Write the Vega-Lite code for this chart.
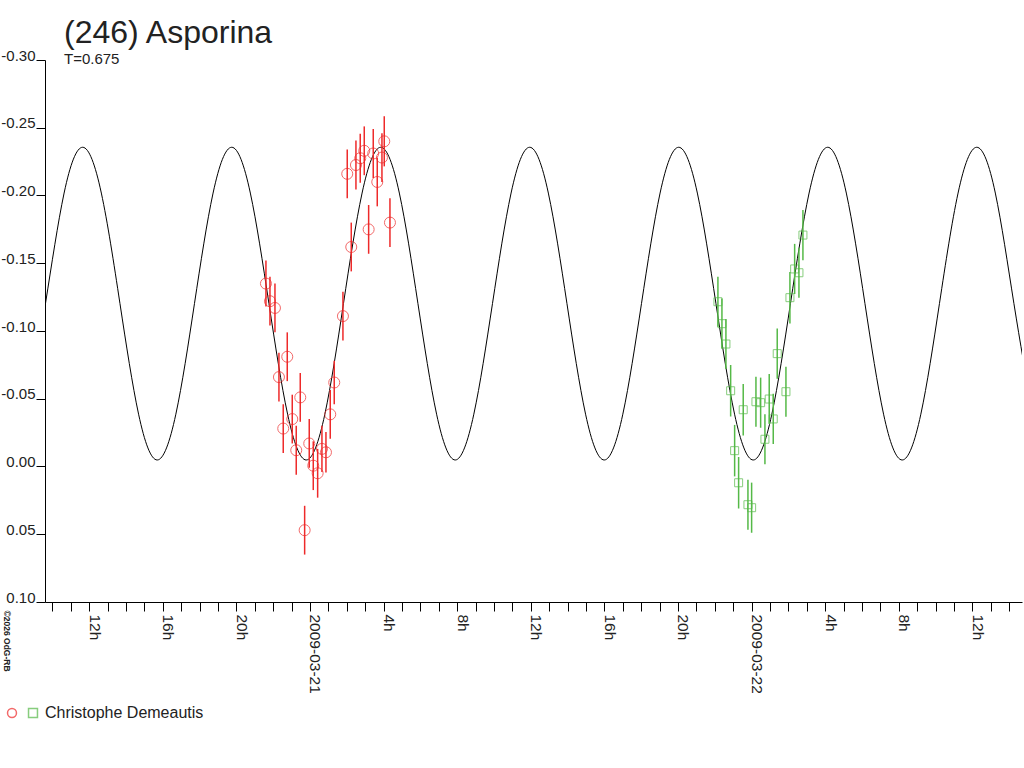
{
  "$schema": "https://vega.github.io/schema/vega-lite/v6.json",
  "autosize": "none",
  "width": 977,
  "height": 542,
  "padding": {"left": 45, "top": 60, "right": 2, "bottom": 166},
  "background": "#ffffff",
  "title": {
    "text": "(246) Asporina",
    "subtitle": "T=0.675",
    "anchor": "start",
    "frame": "group",
    "dx": 19,
    "offset": -20,
    "font": "Liberation Sans",
    "fontSize": 32,
    "fontWeight": "normal",
    "color": "#222222",
    "subtitleFont": "Liberation Sans",
    "subtitleFontSize": 15,
    "subtitleColor": "#222222",
    "subtitlePadding": 2
  },
  "datasets": {
    "curve": [
      {"t": "2009-03-20T08:36:48", "mag": -0.0386},
      {"t": "2009-03-20T09:37:30", "mag": -0.1202},
      {"t": "2009-03-20T10:38:18", "mag": -0.2018},
      {"t": "2009-03-20T11:39:00", "mag": -0.2356},
      {"t": "2009-03-20T12:39:42", "mag": -0.2018},
      {"t": "2009-03-20T13:40:30", "mag": -0.1202},
      {"t": "2009-03-20T14:41:12", "mag": -0.0386},
      {"t": "2009-03-20T15:41:54", "mag": -0.0048},
      {"t": "2009-03-20T16:42:42", "mag": -0.0386},
      {"t": "2009-03-20T17:43:24", "mag": -0.1202},
      {"t": "2009-03-20T18:44:06", "mag": -0.2018},
      {"t": "2009-03-20T19:44:54", "mag": -0.2356},
      {"t": "2009-03-20T20:45:36", "mag": -0.2018},
      {"t": "2009-03-20T21:46:18", "mag": -0.1202},
      {"t": "2009-03-20T22:47:06", "mag": -0.0386},
      {"t": "2009-03-20T23:47:48", "mag": -0.0048},
      {"t": "2009-03-21T00:48:36", "mag": -0.0386},
      {"t": "2009-03-21T01:49:18", "mag": -0.1202},
      {"t": "2009-03-21T02:50:00", "mag": -0.2018},
      {"t": "2009-03-21T03:50:48", "mag": -0.2356},
      {"t": "2009-03-21T04:51:30", "mag": -0.2018},
      {"t": "2009-03-21T05:52:12", "mag": -0.1202},
      {"t": "2009-03-21T06:53:00", "mag": -0.0386},
      {"t": "2009-03-21T07:53:42", "mag": -0.0048},
      {"t": "2009-03-21T08:54:24", "mag": -0.0386},
      {"t": "2009-03-21T09:55:12", "mag": -0.1202},
      {"t": "2009-03-21T10:55:54", "mag": -0.2018},
      {"t": "2009-03-21T11:56:36", "mag": -0.2356},
      {"t": "2009-03-21T12:57:24", "mag": -0.2018},
      {"t": "2009-03-21T13:58:06", "mag": -0.1202},
      {"t": "2009-03-21T14:58:48", "mag": -0.0386},
      {"t": "2009-03-21T15:59:36", "mag": -0.0048},
      {"t": "2009-03-21T17:00:18", "mag": -0.0386},
      {"t": "2009-03-21T18:01:06", "mag": -0.1202},
      {"t": "2009-03-21T19:01:48", "mag": -0.2018},
      {"t": "2009-03-21T20:02:30", "mag": -0.2356},
      {"t": "2009-03-21T21:03:18", "mag": -0.2018},
      {"t": "2009-03-21T22:04:00", "mag": -0.1202},
      {"t": "2009-03-21T23:04:42", "mag": -0.0386},
      {"t": "2009-03-22T00:05:30", "mag": -0.0048},
      {"t": "2009-03-22T01:06:12", "mag": -0.0386},
      {"t": "2009-03-22T02:06:54", "mag": -0.1202},
      {"t": "2009-03-22T03:07:42", "mag": -0.2018},
      {"t": "2009-03-22T04:08:24", "mag": -0.2356},
      {"t": "2009-03-22T05:09:06", "mag": -0.2018},
      {"t": "2009-03-22T06:09:54", "mag": -0.1202},
      {"t": "2009-03-22T07:10:36", "mag": -0.0386},
      {"t": "2009-03-22T08:11:18", "mag": -0.0048},
      {"t": "2009-03-22T09:12:06", "mag": -0.0386},
      {"t": "2009-03-22T10:12:48", "mag": -0.1202},
      {"t": "2009-03-22T11:13:30", "mag": -0.2018},
      {"t": "2009-03-22T12:14:18", "mag": -0.2356},
      {"t": "2009-03-22T13:15:00", "mag": -0.2018},
      {"t": "2009-03-22T14:15:42", "mag": -0.1202},
      {"t": "2009-03-22T15:16:30", "mag": -0.0386}
    ],
    "obs": [
      {"session": "1", "t": "2009-03-20T21:36:30", "mag": -0.135, "lo": -0.152, "hi": -0.118},
      {"session": "1", "t": "2009-03-20T21:49:36", "mag": -0.122, "lo": -0.14, "hi": -0.104},
      {"session": "1", "t": "2009-03-20T22:05:54", "mag": -0.117, "lo": -0.135, "hi": -0.099},
      {"session": "1", "t": "2009-03-20T22:18:54", "mag": -0.066, "lo": -0.084, "hi": -0.048},
      {"session": "1", "t": "2009-03-20T22:32:54", "mag": -0.028, "lo": -0.046, "hi": -0.01},
      {"session": "1", "t": "2009-03-20T22:46:00", "mag": -0.081, "lo": -0.099, "hi": -0.063},
      {"session": "1", "t": "2009-03-20T23:02:18", "mag": -0.035, "lo": -0.053, "hi": -0.017},
      {"session": "1", "t": "2009-03-20T23:15:18", "mag": -0.012, "lo": -0.03, "hi": 0.006},
      {"session": "1", "t": "2009-03-20T23:28:24", "mag": -0.051, "lo": -0.069, "hi": -0.033},
      {"session": "1", "t": "2009-03-20T23:42:42", "mag": 0.047, "lo": 0.029, "hi": 0.065},
      {"session": "1", "t": "2009-03-20T23:57:42", "mag": -0.017, "lo": -0.035, "hi": 0.001},
      {"session": "1", "t": "2009-03-21T00:10:48", "mag": -0.0006, "lo": -0.0186, "hi": 0.0174},
      {"session": "1", "t": "2009-03-21T00:25:06", "mag": 0.005, "lo": -0.013, "hi": 0.023},
      {"session": "1", "t": "2009-03-21T00:39:06", "mag": -0.013, "lo": -0.03, "hi": 0.004},
      {"session": "1", "t": "2009-03-21T00:52:12", "mag": -0.0105, "lo": -0.0255, "hi": 0.0045},
      {"session": "1", "t": "2009-03-21T01:06:12", "mag": -0.0385, "lo": -0.0565, "hi": -0.0205},
      {"session": "1", "t": "2009-03-21T01:19:12", "mag": -0.062, "lo": -0.078, "hi": -0.046},
      {"session": "1", "t": "2009-03-21T01:47:36", "mag": -0.111, "lo": -0.129, "hi": -0.093},
      {"session": "1", "t": "2009-03-21T02:01:36", "mag": -0.216, "lo": -0.234, "hi": -0.198},
      {"session": "1", "t": "2009-03-21T02:14:42", "mag": -0.162, "lo": -0.18, "hi": -0.144},
      {"session": "1", "t": "2009-03-21T02:30:00", "mag": -0.2225, "lo": -0.2405, "hi": -0.2045},
      {"session": "1", "t": "2009-03-21T02:44:00", "mag": -0.2275, "lo": -0.2455, "hi": -0.2095},
      {"session": "1", "t": "2009-03-21T02:57:06", "mag": -0.233, "lo": -0.251, "hi": -0.215},
      {"session": "1", "t": "2009-03-21T03:11:24", "mag": -0.175, "lo": -0.193, "hi": -0.157},
      {"session": "1", "t": "2009-03-21T03:26:24", "mag": -0.231, "lo": -0.249, "hi": -0.213},
      {"session": "1", "t": "2009-03-21T03:39:30", "mag": -0.21, "lo": -0.228, "hi": -0.192},
      {"session": "1", "t": "2009-03-21T03:54:48", "mag": -0.228, "lo": -0.246, "hi": -0.21},
      {"session": "1", "t": "2009-03-21T04:02:18", "mag": -0.24, "lo": -0.2585, "hi": -0.2215},
      {"session": "1", "t": "2009-03-21T04:20:54", "mag": -0.18, "lo": -0.198, "hi": -0.162},
      {"session": "2", "t": "2009-03-21T22:10:24", "mag": -0.1216, "lo": -0.1401, "hi": -0.1031},
      {"session": "2", "t": "2009-03-21T22:23:30", "mag": -0.1054, "lo": -0.1239, "hi": -0.0869},
      {"session": "2", "t": "2009-03-21T22:36:30", "mag": -0.0904, "lo": -0.1089, "hi": -0.0719},
      {"session": "2", "t": "2009-03-21T22:51:54", "mag": -0.0559, "lo": -0.0749, "hi": -0.0369},
      {"session": "2", "t": "2009-03-21T23:04:54", "mag": -0.0117, "lo": -0.0307, "hi": 0.0073},
      {"session": "2", "t": "2009-03-21T23:17:54", "mag": 0.012, "lo": -0.007, "hi": 0.031},
      {"session": "2", "t": "2009-03-21T23:32:54", "mag": -0.0419, "lo": -0.0609, "hi": -0.0229},
      {"session": "2", "t": "2009-03-21T23:48:18", "mag": 0.0282, "lo": 0.0097, "hi": 0.0467},
      {"session": "2", "t": "2009-03-22T00:00:18", "mag": 0.0304, "lo": 0.0119, "hi": 0.0489},
      {"session": "2", "t": "2009-03-22T00:14:24", "mag": -0.0478, "lo": -0.0663, "hi": -0.0293},
      {"session": "2", "t": "2009-03-22T00:29:42", "mag": -0.0471, "lo": -0.0656, "hi": -0.0286},
      {"session": "2", "t": "2009-03-22T00:43:42", "mag": -0.0201, "lo": -0.0386, "hi": -0.0016},
      {"session": "2", "t": "2009-03-22T00:57:42", "mag": -0.0498, "lo": -0.0683, "hi": -0.0313},
      {"session": "2", "t": "2009-03-22T01:10:48", "mag": -0.0351, "lo": -0.0536, "hi": -0.0166},
      {"session": "2", "t": "2009-03-22T01:23:48", "mag": -0.0833, "lo": -0.1018, "hi": -0.0648},
      {"session": "2", "t": "2009-03-22T01:52:12", "mag": -0.0552, "lo": -0.0737, "hi": -0.0367},
      {"session": "2", "t": "2009-03-22T02:05:12", "mag": -0.1246, "lo": -0.1436, "hi": -0.1056},
      {"session": "2", "t": "2009-03-22T02:20:36", "mag": -0.1458, "lo": -0.1643, "hi": -0.1273},
      {"session": "2", "t": "2009-03-22T02:34:36", "mag": -0.143, "lo": -0.1615, "hi": -0.1245},
      {"session": "2", "t": "2009-03-22T02:47:36", "mag": -0.1708, "lo": -0.1893, "hi": -0.1523}
    ]
  },
  "encoding": {
    "x": {
      "field": "t",
      "type": "temporal",
      "scale": {
        "domain": [
          {"year": 2009, "month": 3, "date": 20, "hours": 9, "minutes": 36},
          {"year": 2009, "month": 3, "date": 22, "hours": 14, "minutes": 42}
        ]
      },
      "axis": {
        "title": null,
        "grid": false,
        "values": [
          {"year": 2009, "month": 3, "date": 20, "hours": 10},
          {"year": 2009, "month": 3, "date": 20, "hours": 11},
          {"year": 2009, "month": 3, "date": 20, "hours": 12},
          {"year": 2009, "month": 3, "date": 20, "hours": 13},
          {"year": 2009, "month": 3, "date": 20, "hours": 14},
          {"year": 2009, "month": 3, "date": 20, "hours": 15},
          {"year": 2009, "month": 3, "date": 20, "hours": 16},
          {"year": 2009, "month": 3, "date": 20, "hours": 17},
          {"year": 2009, "month": 3, "date": 20, "hours": 18},
          {"year": 2009, "month": 3, "date": 20, "hours": 19},
          {"year": 2009, "month": 3, "date": 20, "hours": 20},
          {"year": 2009, "month": 3, "date": 20, "hours": 21},
          {"year": 2009, "month": 3, "date": 20, "hours": 22},
          {"year": 2009, "month": 3, "date": 20, "hours": 23},
          {"year": 2009, "month": 3, "date": 21, "hours": 0},
          {"year": 2009, "month": 3, "date": 21, "hours": 1},
          {"year": 2009, "month": 3, "date": 21, "hours": 2},
          {"year": 2009, "month": 3, "date": 21, "hours": 3},
          {"year": 2009, "month": 3, "date": 21, "hours": 4},
          {"year": 2009, "month": 3, "date": 21, "hours": 5},
          {"year": 2009, "month": 3, "date": 21, "hours": 6},
          {"year": 2009, "month": 3, "date": 21, "hours": 7},
          {"year": 2009, "month": 3, "date": 21, "hours": 8},
          {"year": 2009, "month": 3, "date": 21, "hours": 9},
          {"year": 2009, "month": 3, "date": 21, "hours": 10},
          {"year": 2009, "month": 3, "date": 21, "hours": 11},
          {"year": 2009, "month": 3, "date": 21, "hours": 12},
          {"year": 2009, "month": 3, "date": 21, "hours": 13},
          {"year": 2009, "month": 3, "date": 21, "hours": 14},
          {"year": 2009, "month": 3, "date": 21, "hours": 15},
          {"year": 2009, "month": 3, "date": 21, "hours": 16},
          {"year": 2009, "month": 3, "date": 21, "hours": 17},
          {"year": 2009, "month": 3, "date": 21, "hours": 18},
          {"year": 2009, "month": 3, "date": 21, "hours": 19},
          {"year": 2009, "month": 3, "date": 21, "hours": 20},
          {"year": 2009, "month": 3, "date": 21, "hours": 21},
          {"year": 2009, "month": 3, "date": 21, "hours": 22},
          {"year": 2009, "month": 3, "date": 21, "hours": 23},
          {"year": 2009, "month": 3, "date": 22, "hours": 0},
          {"year": 2009, "month": 3, "date": 22, "hours": 1},
          {"year": 2009, "month": 3, "date": 22, "hours": 2},
          {"year": 2009, "month": 3, "date": 22, "hours": 3},
          {"year": 2009, "month": 3, "date": 22, "hours": 4},
          {"year": 2009, "month": 3, "date": 22, "hours": 5},
          {"year": 2009, "month": 3, "date": 22, "hours": 6},
          {"year": 2009, "month": 3, "date": 22, "hours": 7},
          {"year": 2009, "month": 3, "date": 22, "hours": 8},
          {"year": 2009, "month": 3, "date": 22, "hours": 9},
          {"year": 2009, "month": 3, "date": 22, "hours": 10},
          {"year": 2009, "month": 3, "date": 22, "hours": 11},
          {"year": 2009, "month": 3, "date": 22, "hours": 12},
          {"year": 2009, "month": 3, "date": 22, "hours": 13},
          {"year": 2009, "month": 3, "date": 22, "hours": 14}
        ],
        "labelExpr": "hours(datum.value) % 4 == 0 ? (hours(datum.value) == 0 ? timeFormat(datum.value, '%Y-%m-%d') : hours(datum.value) + 'h') : ''",
        "labelAngle": 90,
        "labelAlign": "left",
        "labelBaseline": "alphabetic",
        "labelOverlap": false,
        "labelFlush": false,
        "labelPadding": 3,
        "labelFont": "Liberation Sans",
        "labelFontSize": 15.5,
        "labelColor": "#222222",
        "tickSize": 9,
        "tickColor": "#000000",
        "domainColor": "#000000"
      }
    },
    "y": {
      "field": "mag",
      "type": "quantitative",
      "scale": {"domain": [-0.3, 0.1], "reverse": true, "nice": false, "zero": false},
      "axis": {
        "title": "©2026 OdG-RB",
        "titleAngle": 90,
        "titleAlign": "left",
        "titleBaseline": "alphabetic",
        "titleX": -42,
        "titleY": 550,
        "titleFont": "Liberation Sans",
        "titleFontSize": 8.5,
        "titleFontWeight": "bold",
        "titleColor": "#222222",
        "grid": false,
        "values": [-0.3, -0.25, -0.2, -0.15, -0.1, -0.05, 0, 0.05, 0.1],
        "labelExpr": "replace(format(datum.value, '.2f'), '−', '-')",
        "labelBaseline": "alphabetic",
        "labelPadding": 1,
        "labelFont": "Liberation Sans",
        "labelFontSize": 15,
        "labelColor": "#222222",
        "tickSize": 9,
        "tickColor": "#000000",
        "domainColor": "#000000"
      }
    }
  },
  "layer": [
    {
      "data": {"name": "curve"},
      "mark": {"type": "line", "color": "#000000", "strokeWidth": 1, "interpolate": "natural", "clip": true},
      "encoding": {}
    },
    {
      "data": {"name": "obs"},
      "mark": {"type": "rule", "strokeWidth": 1.5},
      "encoding": {
        "y": {"field": "lo", "type": "quantitative"},
        "y2": {"field": "hi"},
        "stroke": {
          "condition": {"test": "datum.session == '1'", "value": "#ee2a2a"},
          "value": "#55b947"
        }
      }
    },
    {
      "data": {"name": "obs"},
      "mark": {"type": "point", "filled": false, "strokeWidth": 1},
      "encoding": {
        "color": {
          "field": "session",
          "type": "nominal",
          "scale": {"domain": ["1", "2"], "range": ["#ee2a2a", "#55b947"]},
          "legend": {
            "title": null,
            "orient": "none",
            "legendX": -41,
            "legendY": 645,
            "direction": "horizontal",
            "padding": 0,
            "columnPadding": 1,
            "labelOffset": 4,
            "symbolSize": 80,
            "labelExpr": "datum.value == '2' ? 'Christophe Demeautis' : ''",
            "labelFont": "Liberation Sans",
            "labelFontSize": 16,
            "labelColor": "#222222"
          }
        },
        "shape": {
          "field": "session",
          "type": "nominal",
          "scale": {"domain": ["1", "2"], "range": ["circle", "square"]},
          "legend": {
            "title": null,
            "orient": "none",
            "legendX": -41,
            "legendY": 645,
            "direction": "horizontal",
            "padding": 0,
            "columnPadding": 1,
            "labelOffset": 4,
            "symbolSize": 80,
            "labelExpr": "datum.value == '2' ? 'Christophe Demeautis' : ''",
            "labelFont": "Liberation Sans",
            "labelFontSize": 16,
            "labelColor": "#222222"
          }
        },
        "size": {
          "condition": {"test": "datum.session == '1'", "value": 121},
          "value": 64
        }
      }
    }
  ],
  "config": {
    "view": {"stroke": null},
    "font": "Liberation Sans"
  }
}
